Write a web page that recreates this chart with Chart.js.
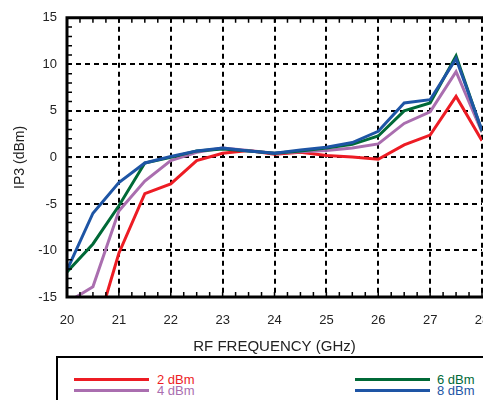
<!DOCTYPE html>
<html>
<head>
<meta charset="utf-8">
<script src="https://cdn.jsdelivr.net/npm/chart.js@4"></script>
<style>
  html, body { margin: 0; padding: 0; background: #fff; overflow: hidden; width: 483px; height: 400px; }
  body { position: relative; font-family: "Liberation Sans", Arial, Helvetica, sans-serif; }
  #chart { position: absolute; left: 0; top: 0; }
  #legend {
    position: absolute; left: 56px; top: 356px; width: 460px; height: 70px;
    border: 2px solid #000; background: #fff;
  }
  .item { position: absolute; font-size: 13px; line-height: 11px; white-space: nowrap; }
  .item span.line { position: absolute; top: 4px; height: 3px; }
</style>
</head>
<body>
<canvas id="chart" width="520" height="360"></canvas>
<div id="legend"></div>
<script>
// RF frequency (GHz)
const freq = [20, 20.5, 21, 21.5, 22, 22.5, 23, 23.5, 24, 24.5, 25, 25.5, 26, 26.5, 27, 27.5, 28];

// IP3 (dBm) for each LO drive level
const ip3_2dBm = [-26, -19.7, -10.3, -3.9, -2.85, -0.35, 0.45, 0.75, 0.35, 0.55, 0.2, 0.05, -0.2, 1.35, 2.4, 6.55, 1.8];
const ip3_4dBm = [-15.6, -13.9, -5.75, -2.55, -0.35, 0.55, 1.0, 0.75, 0.45, 0.6, 0.75, 1.0, 1.45, 3.65, 4.9, 9.2, 2.7];
const ip3_6dBm = [-12.3, -9.3, -5.2, -0.6, 0.0, 0.7, 0.9, 0.7, 0.45, 0.7, 1.0, 1.4, 2.3, 5.0, 5.85, 10.9, 2.8];
const ip3_8dBm = [-12.1, -6.0, -2.7, -0.6, 0.1, 0.7, 1.0, 0.7, 0.45, 0.8, 1.1, 1.6, 2.8, 5.85, 6.2, 10.6, 2.9];

const seriesNames = ["2 dBm", "4 dBm", "6 dBm", "8 dBm"];
const seriesColors = ["rgb(237,28,36)", "rgb(170,110,175)", "rgb(0,105,55)", "rgb(30,85,165)"];
const seriesValues = [ip3_2dBm, ip3_4dBm, ip3_6dBm, ip3_8dBm];

const xTicks = { min: 20, max: 28, step: 1 };
const yTicks = { min: -15, max: 15, step: 5 };

Chart.defaults.font.family = '"Liberation Sans", Arial, Helvetica, sans-serif';
Chart.defaults.color = "#222";

// thick frame on top, left and bottom plus small inward ticks
const framePlugin = {
  id: "frame",
  afterDatasetsDraw(chart) {
    const { ctx, chartArea: a, scales } = chart;
    const x = scales.x, y = scales.y;
    ctx.save();
    ctx.strokeStyle = "#000";
    ctx.lineWidth = 1.5;
    ctx.beginPath();
    for (let v = xTicks.min; v <= xTicks.max; v += 0.25) {
      const px = x.getPixelForValue(v);
      ctx.moveTo(px, a.top); ctx.lineTo(px, a.top + 5);
      ctx.moveTo(px, a.bottom); ctx.lineTo(px, a.bottom - 5);
    }
    for (let v = yTicks.min; v <= yTicks.max; v += 1) {
      const py = y.getPixelForValue(v);
      ctx.moveTo(a.left, py); ctx.lineTo(a.left + 5, py);
    }
    ctx.stroke();
    ctx.lineWidth = 3;
    ctx.beginPath();
    ctx.moveTo(a.right + 20, a.top);
    ctx.lineTo(a.left, a.top);
    ctx.lineTo(a.left, a.bottom);
    ctx.lineTo(a.right + 20, a.bottom);
    ctx.stroke();
    ctx.restore();
  }
};

const datasets = seriesNames.map((name, i) => ({
  label: name,
  data: freq.map((f, j) => ({ x: f, y: seriesValues[i][j] })),
  borderColor: seriesColors[i],
  backgroundColor: seriesColors[i],
  borderWidth: 3,
  pointRadius: 0,
  tension: 0,
  order: 4 - i
}));

new Chart(document.getElementById("chart"), {
  type: "line",
  data: { datasets },
  options: {
    responsive: false,
    animation: false,
    layout: { padding: { left: 0, top: 15, right: 38, bottom: 0 } },
    plugins: { legend: { display: false }, tooltip: { enabled: false } },
    scales: {
      x: {
        type: "linear",
        min: xTicks.min,
        max: xTicks.max,
        ticks: { stepSize: xTicks.step, padding: 16, font: { size: 13 }, maxRotation: 0 },
        grid: { color: "#000", lineWidth: 2, drawTicks: false },
        border: { display: false, dash: [5, 4] },
        title: { display: true, text: "RF FREQUENCY (GHz)", font: { size: 15 }, padding: { top: 0, bottom: 4 } },
        afterFit(scale) { scale.height = 63; }
      },
      y: {
        min: yTicks.min,
        max: yTicks.max,
        ticks: { stepSize: yTicks.step, padding: 10, font: { size: 13 } },
        grid: { color: "#000", lineWidth: 2, drawTicks: false },
        border: { display: false, dash: [5, 4] },
        title: { display: true, text: "IP3 (dBm)", font: { size: 14 }, padding: { top: 12, bottom: 0 } },
        afterFit(scale) { scale.width = 67; }
      }
    }
  },
  plugins: [framePlugin]
});

// legend: two columns, two rows
const legend = document.getElementById("legend");
const slots = [
  { lineLeft: 16, textLeft: 99, top: 16 },
  { lineLeft: 16, textLeft: 99, top: 27 },
  { lineLeft: 297, textLeft: 379, top: 16 },
  { lineLeft: 297, textLeft: 379, top: 27 }
];
seriesNames.forEach((name, i) => {
  const s = slots[i];
  const item = document.createElement("div");
  item.className = "item";
  item.style.left = s.lineLeft + "px";
  item.style.top = s.top + "px";
  const line = document.createElement("span");
  line.className = "line";
  line.style.left = "0px";
  line.style.width = "75px";
  line.style.background = seriesColors[i];
  const text = document.createElement("span");
  text.textContent = name;
  text.style.position = "absolute";
  text.style.left = (s.textLeft - s.lineLeft) + "px";
  text.style.top = "0px";
  text.style.color = seriesColors[i];
  item.appendChild(line);
  item.appendChild(text);
  legend.appendChild(item);
});
</script>
</body>
</html>
